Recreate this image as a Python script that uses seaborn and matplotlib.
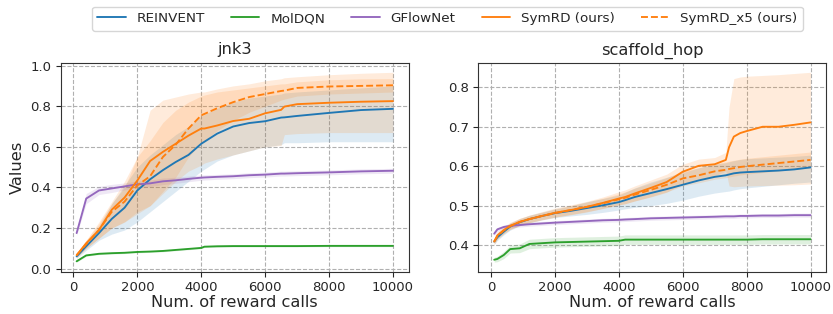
import matplotlib
matplotlib.use('Agg')
import matplotlib.pyplot as plt
import seaborn as sns

# ---- jnk3 ----
X_JNK = [100, 400, 800, 1200, 1600, 2000, 2400, 2800, 3200, 3600, 4000, 4100,
         4500, 5000, 5500, 6000, 6500, 6600, 7000, 8000, 9000, 10000]

JNK_REINVENT = [0.06, 0.11, 0.175, 0.245, 0.30, 0.385, 0.44, 0.485, 0.525, 0.56, 0.615, 0.625,
                0.665, 0.70, 0.717, 0.726, 0.744, 0.745, 0.752, 0.767, 0.781, 0.787]
JNK_REINVENT_LO = [0.05, 0.09, 0.14, 0.17, 0.19, 0.23, 0.28, 0.33, 0.38, 0.43, 0.48, 0.49,
                   0.53, 0.56, 0.58, 0.60, 0.61, 0.62, 0.62, 0.625, 0.625, 0.625]
JNK_REINVENT_HI = [0.07, 0.13, 0.21, 0.32, 0.41, 0.50, 0.56, 0.61, 0.66, 0.70, 0.75, 0.76,
                   0.79, 0.82, 0.84, 0.85, 0.86, 0.865, 0.87, 0.88, 0.89, 0.90]

JNK_MOLDQN = [0.036, 0.065, 0.073, 0.076, 0.078, 0.082, 0.084, 0.087, 0.092, 0.097, 0.102, 0.108,
              0.110, 0.111, 0.111, 0.111, 0.111, 0.111, 0.111, 0.112, 0.112, 0.112]
JNK_MOLDQN_LO = [0.032, 0.061, 0.069, 0.072, 0.074, 0.078, 0.080, 0.083, 0.088, 0.093, 0.098, 0.104,
                 0.106, 0.107, 0.107, 0.107, 0.107, 0.107, 0.107, 0.108, 0.108, 0.108]
JNK_MOLDQN_HI = [0.040, 0.069, 0.077, 0.080, 0.082, 0.086, 0.088, 0.091, 0.096, 0.101, 0.106, 0.112,
                 0.114, 0.115, 0.115, 0.115, 0.115, 0.115, 0.115, 0.116, 0.116, 0.116]

JNK_GFLOWNET = [0.175, 0.345, 0.385, 0.395, 0.405, 0.415, 0.42, 0.43, 0.435, 0.442, 0.448, 0.449,
                0.452, 0.455, 0.46, 0.463, 0.468, 0.468, 0.47, 0.474, 0.479, 0.482]
JNK_GFLOWNET_LO = [0.165, 0.32, 0.365, 0.375, 0.388, 0.398, 0.404, 0.414, 0.42, 0.428, 0.435, 0.436,
                   0.44, 0.443, 0.448, 0.451, 0.456, 0.456, 0.458, 0.462, 0.467, 0.47]
JNK_GFLOWNET_HI = [0.185, 0.37, 0.405, 0.415, 0.422, 0.432, 0.436, 0.446, 0.45, 0.456, 0.461, 0.462,
                   0.464, 0.467, 0.472, 0.475, 0.48, 0.48, 0.482, 0.486, 0.491, 0.494]

JNK_SYMRD = [0.066, 0.125, 0.19, 0.29, 0.35, 0.434, 0.53, 0.575, 0.615, 0.655, 0.69, 0.69,
             0.705, 0.727, 0.738, 0.765, 0.782, 0.798, 0.81, 0.817, 0.822, 0.825]
JNK_SYMRD_LO = [0.055, 0.10, 0.15, 0.20, 0.23, 0.27, 0.31, 0.37, 0.43, 0.48, 0.51, 0.52,
                0.54, 0.56, 0.58, 0.60, 0.607, 0.66, 0.665, 0.67, 0.67, 0.67]
JNK_SYMRD_HI = [0.075, 0.14, 0.22, 0.32, 0.40, 0.55, 0.78, 0.83, 0.845, 0.86, 0.87, 0.87,
                0.885, 0.90, 0.91, 0.925, 0.935, 0.94, 0.945, 0.955, 0.962, 0.967]

JNK_SYMRD_X5 = [0.066, 0.12, 0.19, 0.28, 0.33, 0.41, 0.455, 0.55, 0.61, 0.69, 0.755, 0.762,
                0.79, 0.82, 0.845, 0.86, 0.875, 0.877, 0.89, 0.897, 0.90, 0.903]
JNK_SYMRD_X5_LO = [0.055, 0.10, 0.15, 0.20, 0.23, 0.28, 0.31, 0.38, 0.45, 0.55, 0.62, 0.63,
                   0.68, 0.73, 0.77, 0.80, 0.83, 0.835, 0.85, 0.86, 0.865, 0.87]
JNK_SYMRD_X5_HI = [0.075, 0.14, 0.23, 0.33, 0.43, 0.55, 0.63, 0.72, 0.78, 0.82, 0.85, 0.855,
                   0.87, 0.88, 0.89, 0.90, 0.91, 0.91, 0.92, 0.93, 0.935, 0.936]

# ---- scaffold_hop ----
X_SCAF = [100, 200, 400, 600, 900, 1200, 1600, 2000, 2500, 3000, 3500, 4000, 4200, 4500,
          5000, 5500, 6000, 6500, 7000, 7350, 7450, 7600, 7800, 8000, 8500, 9000, 9500, 10000]

SCAF_REINVENT = [0.409, 0.42, 0.434, 0.447, 0.458, 0.466, 0.474, 0.481, 0.487, 0.494, 0.501, 0.509, 0.514, 0.522,
                 0.532, 0.542, 0.553, 0.564, 0.573, 0.577, 0.579, 0.582, 0.584, 0.585, 0.587, 0.589, 0.592, 0.597]
SCAF_REINVENT_LO = [0.402, 0.412, 0.426, 0.438, 0.449, 0.456, 0.464, 0.470, 0.474, 0.478, 0.483, 0.489, 0.492, 0.496,
                    0.50, 0.506, 0.514, 0.524, 0.532, 0.536, 0.537, 0.54, 0.543, 0.545, 0.549, 0.553, 0.557, 0.56]
SCAF_REINVENT_HI = [0.416, 0.428, 0.442, 0.456, 0.467, 0.476, 0.484, 0.492, 0.50, 0.51, 0.518, 0.527, 0.534, 0.545,
                    0.56, 0.572, 0.584, 0.596, 0.605, 0.609, 0.611, 0.614, 0.617, 0.619, 0.621, 0.623, 0.625, 0.628]

SCAF_MOLDQN = [0.363, 0.365, 0.375, 0.39, 0.392, 0.403, 0.405, 0.407, 0.408, 0.409, 0.41, 0.411, 0.414, 0.414,
               0.414, 0.414, 0.414, 0.414, 0.414, 0.414, 0.414, 0.414, 0.414, 0.414, 0.415, 0.415, 0.415, 0.415]
SCAF_MOLDQN_LO = [0.357, 0.358, 0.366, 0.380, 0.381, 0.391, 0.393, 0.395, 0.396, 0.397, 0.398, 0.399, 0.402, 0.402,
                  0.402, 0.402, 0.402, 0.402, 0.402, 0.402, 0.402, 0.402, 0.402, 0.402, 0.403, 0.403, 0.403, 0.403]
SCAF_MOLDQN_HI = [0.369, 0.372, 0.384, 0.40, 0.403, 0.415, 0.417, 0.419, 0.42, 0.421, 0.422, 0.423, 0.426, 0.426,
                  0.426, 0.426, 0.426, 0.426, 0.426, 0.426, 0.426, 0.426, 0.426, 0.426, 0.427, 0.427, 0.427, 0.427]

SCAF_GFLOWNET = [0.429, 0.44, 0.446, 0.449, 0.451, 0.453, 0.455, 0.457, 0.459, 0.461, 0.463, 0.464, 0.465, 0.466,
                 0.468, 0.469, 0.47, 0.471, 0.472, 0.473, 0.473, 0.473, 0.474, 0.474, 0.475, 0.475, 0.476, 0.476]
SCAF_GFLOWNET_LO = [0.424, 0.435, 0.441, 0.444, 0.446, 0.448, 0.450, 0.452, 0.454, 0.456, 0.458, 0.459, 0.460, 0.461,
                    0.463, 0.464, 0.465, 0.466, 0.467, 0.468, 0.468, 0.468, 0.469, 0.469, 0.470, 0.470, 0.471, 0.471]
SCAF_GFLOWNET_HI = [0.434, 0.445, 0.451, 0.454, 0.456, 0.458, 0.460, 0.462, 0.464, 0.466, 0.468, 0.469, 0.470, 0.471,
                    0.473, 0.474, 0.475, 0.476, 0.477, 0.478, 0.478, 0.478, 0.479, 0.479, 0.480, 0.480, 0.481, 0.481]

SCAF_SYMRD = [0.409, 0.425, 0.438, 0.449, 0.459, 0.466, 0.474, 0.482, 0.489, 0.497, 0.507, 0.518, 0.522, 0.531,
              0.545, 0.56, 0.586, 0.601, 0.605, 0.616, 0.648, 0.675, 0.684, 0.689, 0.70, 0.70, 0.705, 0.711]
SCAF_SYMRD_LO = [0.402, 0.416, 0.429, 0.440, 0.450, 0.457, 0.464, 0.471, 0.477, 0.484, 0.493, 0.502, 0.505, 0.512,
                 0.522, 0.534, 0.556, 0.568, 0.575, 0.588, 0.55, 0.548, 0.549, 0.55, 0.551, 0.552, 0.553, 0.555]
SCAF_SYMRD_HI = [0.416, 0.434, 0.447, 0.458, 0.468, 0.476, 0.485, 0.494, 0.502, 0.511, 0.522, 0.535, 0.54, 0.55,
                 0.565, 0.58, 0.605, 0.618, 0.622, 0.635, 0.75, 0.822, 0.826, 0.828, 0.83, 0.832, 0.835, 0.838]

SCAF_SYMRD_X5 = [0.409, 0.423, 0.437, 0.448, 0.459, 0.466, 0.474, 0.481, 0.489, 0.497, 0.506, 0.516, 0.52, 0.528,
                 0.54, 0.553, 0.569, 0.577, 0.587, 0.591, 0.593, 0.595, 0.598, 0.60, 0.604, 0.608, 0.612, 0.616]
SCAF_SYMRD_X5_LO = [0.402, 0.415, 0.429, 0.440, 0.450, 0.457, 0.465, 0.471, 0.478, 0.485, 0.493, 0.502, 0.505, 0.512,
                    0.523, 0.535, 0.55, 0.558, 0.567, 0.571, 0.573, 0.575, 0.578, 0.58, 0.584, 0.588, 0.592, 0.596]
SCAF_SYMRD_X5_HI = [0.416, 0.431, 0.445, 0.456, 0.468, 0.475, 0.483, 0.491, 0.50, 0.509, 0.519, 0.53, 0.535, 0.544,
                    0.557, 0.571, 0.588, 0.596, 0.607, 0.611, 0.613, 0.615, 0.618, 0.62, 0.624, 0.628, 0.632, 0.636]

METHODS = ['REINVENT', 'MolDQN', 'GFlowNet', 'SymRD (ours)', 'SymRD_x5 (ours)']
COLORS = ['#1f77b4', '#2ca02c', '#9467bd', '#ff7f0e', '#ff7f0e']
STYLES = ['-', '-', '-', '-', '--']

panels = [
    ('jnk3', X_JNK, [
        (JNK_REINVENT, JNK_REINVENT_LO, JNK_REINVENT_HI),
        (JNK_MOLDQN, JNK_MOLDQN_LO, JNK_MOLDQN_HI),
        (JNK_GFLOWNET, JNK_GFLOWNET_LO, JNK_GFLOWNET_HI),
        (JNK_SYMRD, JNK_SYMRD_LO, JNK_SYMRD_HI),
        (JNK_SYMRD_X5, JNK_SYMRD_X5_LO, JNK_SYMRD_X5_HI)]),
    ('scaffold_hop', X_SCAF, [
        (SCAF_REINVENT, SCAF_REINVENT_LO, SCAF_REINVENT_HI),
        (SCAF_MOLDQN, SCAF_MOLDQN_LO, SCAF_MOLDQN_HI),
        (SCAF_GFLOWNET, SCAF_GFLOWNET_LO, SCAF_GFLOWNET_HI),
        (SCAF_SYMRD, SCAF_SYMRD_LO, SCAF_SYMRD_HI),
        (SCAF_SYMRD_X5, SCAF_SYMRD_X5_LO, SCAF_SYMRD_X5_HI)]),
]

sns.set_style('ticks')
plt.rcParams['font.family'] = ['DejaVu Sans']

fig, axes = plt.subplots(1, 2, figsize=(8.33, 3.14), dpi=100)
fig.subplots_adjust(left=0.073, right=0.992, bottom=0.135, top=0.8, wspace=0.2)

for ax, (title, xs, series) in zip(axes, panels):
    for name, color, ls, (mean, lo, hi) in zip(METHODS, COLORS, STYLES, series):
        ax.fill_between(xs, lo, hi, color=color, alpha=0.15, linewidth=0)
        sns.lineplot(x=xs, y=mean, ax=ax, color=color, linestyle=ls,
                     linewidth=1.35, label=name, errorbar=None)
    ax.set_title(title, fontsize=11.7)
    ax.set_xlabel('Num. of reward calls', fontsize=11.6, labelpad=0.5)
    ax.grid(True, linestyle='--', color='#b0b0b0', linewidth=0.8)
    ax.set_xticks([0, 2000, 4000, 6000, 8000, 10000])
    ax.tick_params(labelsize=9.5)
    for s in ax.spines.values():
        s.set_color('#333333')
    ax.get_legend().remove()

axes[0].set_ylabel('Values', fontsize=11.7)
axes[0].set_yticks([0.0, 0.2, 0.4, 0.6, 0.8, 1.0])
axes[1].set_yticks([0.4, 0.5, 0.6, 0.7, 0.8])

handles, labels = axes[0].get_legend_handles_labels()
fig.legend(handles, labels, loc='upper center', bbox_to_anchor=(0.537, 1.0),
           ncol=5, fontsize=9.7, frameon=True, handlelength=2.1, handletextpad=0.8,
           columnspacing=1.95)

fig.savefig('out.png', dpi=100)
